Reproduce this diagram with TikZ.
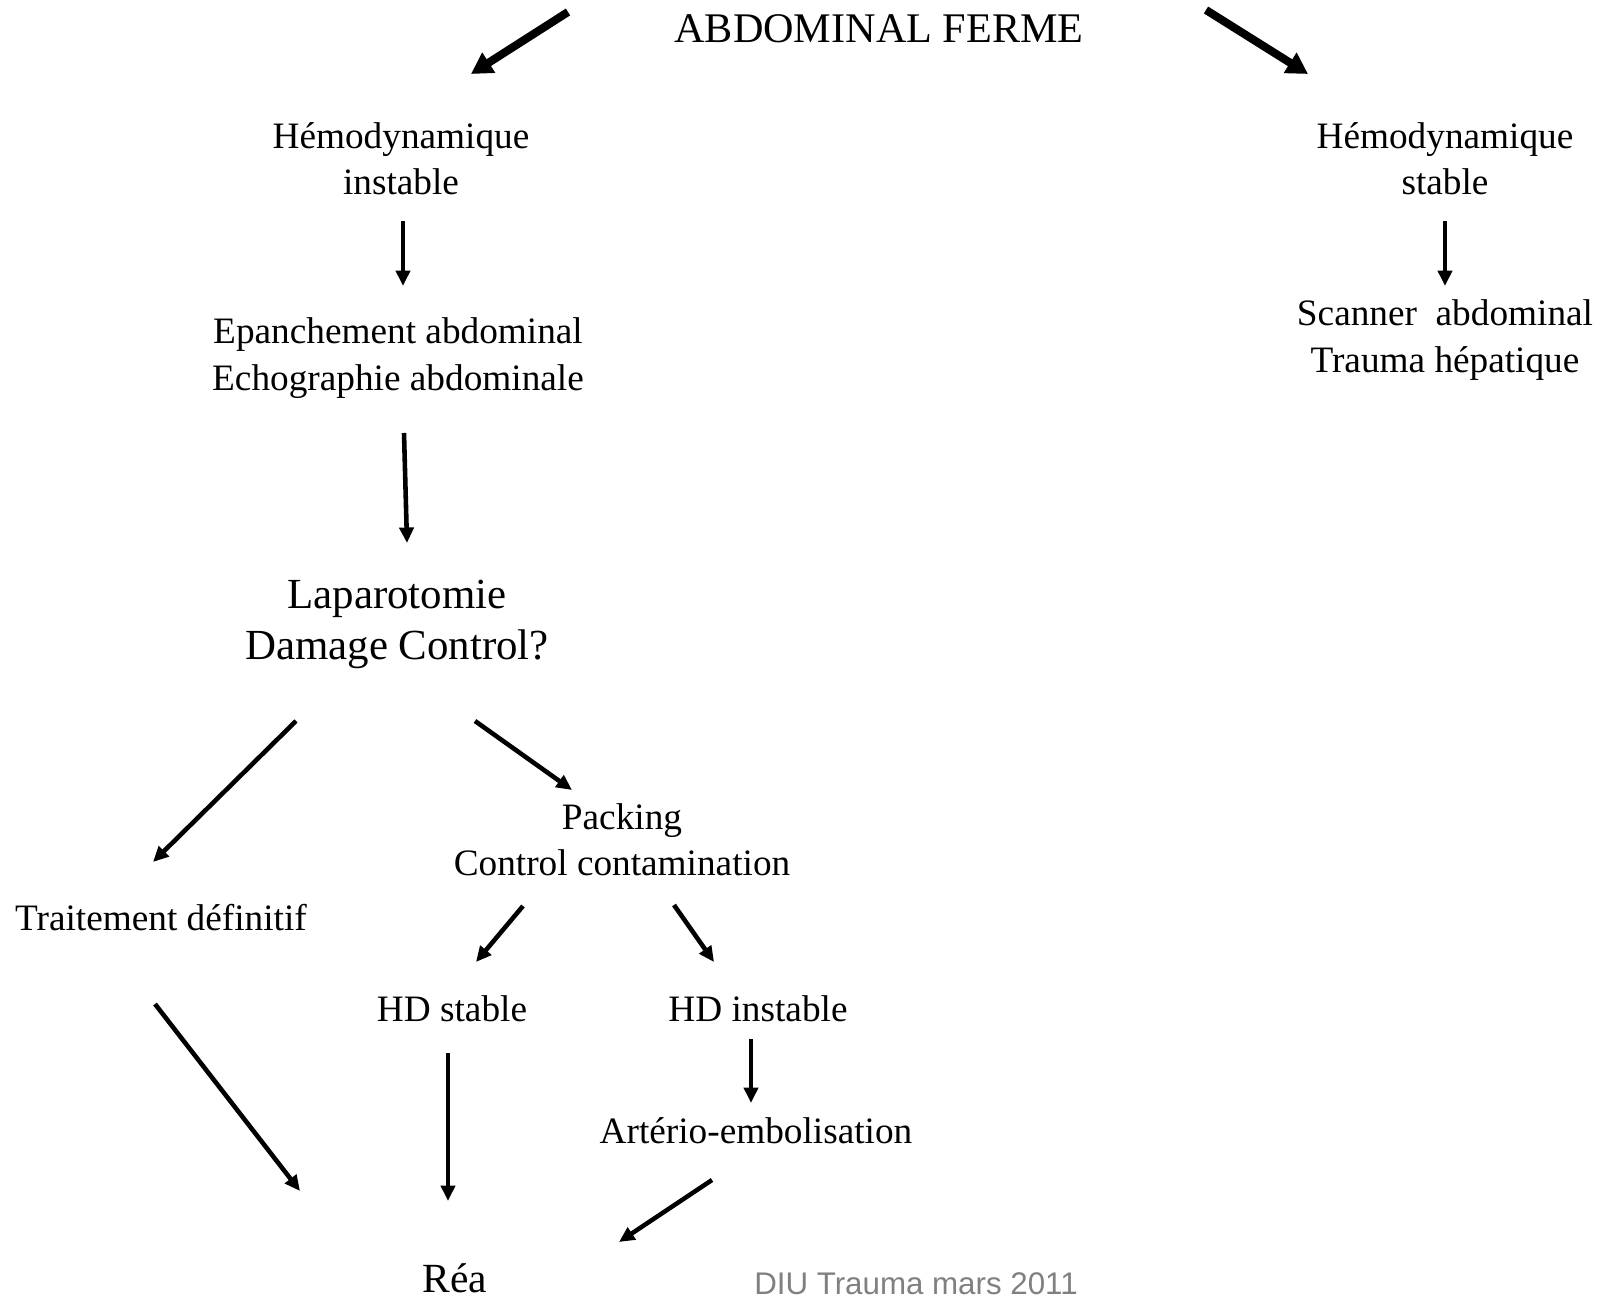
\documentclass[tikz,border=0pt]{standalone}
\usepackage{fontspec}
\setmainfont{Liberation Serif}
\setsansfont{Liberation Sans}
\usetikzlibrary{arrows.meta,calc}
\definecolor{footgray}{RGB}{128,128,128}

\tikzset{
  lbl/.style={font=\fontsize{10.6}{13.2}\selectfont, align=center, inner sep=0pt},
  biglbl/.style={font=\fontsize{12.2}{14.5}\selectfont, align=center, inner sep=0pt},
  arr/.style={line width=1.3pt, -{Triangle[length=4.4pt,width=4pt]}},
  thickarr/.style={line width=2.3pt, -{Triangle[length=6pt,width=6.5pt]}}
}

\begin{document}
\begin{tikzpicture}[x=0.01cm, y=-0.01cm]
  \useasboundingbox (0,0) rectangle (1599,1298);

  % Top
  \node[lbl, font=\fontsize{12}{13}\selectfont] (title) at (879,29) {ABDOMINAL FERME};

  % Left branch: unstable
  \node[lbl] (hinst) at (401,159) {Hémodynamique\\instable};
  \node[lbl] (epan) at (398,358) {Epanchement abdominal\\Echographie abdominale};
  \node[biglbl] (lap) at (397,624) {Laparotomie\\Damage Control?};
  \node[lbl] (trait) at (161,918) {Traitement définitif};
  \node[lbl] (pack) at (622,840) {Packing\\Control contamination};
  \node[lbl] (hds) at (452,1009) {HD stable};
  \node[lbl] (hdi) at (758,1009) {HD instable};
  \node[lbl] (arte) at (756,1131) {Artério-embolisation};
  \node[lbl, font=\fontsize{11.8}{13}\selectfont] (rea) at (455,1278) {Réa};

  % Right branch: stable
  \node[lbl] (hst) at (1445,159) {Hémodynamique\\stable};
  \node[lbl] (scan) at (1445,340) {Scanner~~abdominal\\Trauma hépatique};

  % Footer
  \node[inner sep=0pt, font=\sffamily\fontsize{8.9}{10}\selectfont, text=footgray] (foot) at (916,1284) {DIU Trauma mars 2011};

  % Arrows
  \draw[thickarr] ($(title)+(-311,-17)$) -- ($(hinst)+(70,-85)$);
  \draw[thickarr] ($(title)+(327,-19)$) -- ($(hst)+(-137,-85)$);
  \draw[arr] ($(hinst)+(2,62)$) -- ($(epan)+(5,-72)$);
  \draw[arr] ($(epan)+(6,75)$) -- ($(lap)+(10,-81)$);
  \draw[arr] ($(lap)+(-101,97)$) -- ($(trait)+(-8,-56)$);
  \draw[arr] ($(lap)+(78,97)$) -- ($(pack)+(-50,-50)$);
  \draw[arr] ($(pack)+(-99,66)$) -- ($(hds)+(24,-47)$);
  \draw[arr] ($(pack)+(52,65)$) -- ($(hdi)+(-44,-47)$);
  \draw[arr] ($(hdi)+(-7,30)$) -- ($(arte)+(-5,-28)$);
  \draw[arr] ($(hds)+(-4,44)$) -- ($(rea)+(-7,-77)$);
  \draw[arr] ($(trait)+(-6,86)$) -- ($(rea)+(-155,-87)$);
  \draw[arr] ($(arte)+(-44,49)$) -- ($(rea)+(164,-36)$);
  \draw[arr] ($(hst)+(0,62)$) -- ($(scan)+(0,-54)$);
\end{tikzpicture}
\end{document}
